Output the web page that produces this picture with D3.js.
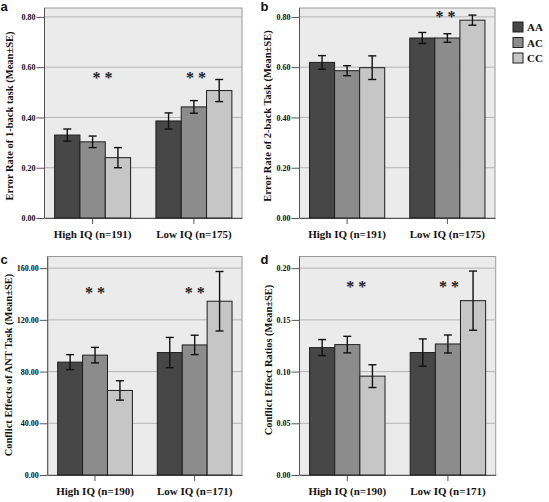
<!DOCTYPE html>
<html><head><meta charset="utf-8">
<script src="https://cdn.jsdelivr.net/npm/d3@7"></script>
<style>
html,body{margin:0;padding:0;background:#fff;}
svg{display:block;}
</style></head>
<body>
<svg id="chart" width="549" height="502"></svg>
<script>
// ---------- data ----------
const genotypes = ["AA", "AC", "CC"];
const groupsAB = ["High IQ (n=191)", "Low IQ (n=175)"];
const groupsCD = ["High IQ (n=190)", "Low IQ (n=171)"];

// panel a: Error rate 1-back
const meanA = [[0.330, 0.303, 0.240], [0.386, 0.442, 0.507]];
const seA   = [[0.024, 0.023, 0.040], [0.032, 0.025, 0.044]];
// panel b: Error rate 2-back
const meanB = [[0.619, 0.586, 0.598], [0.716, 0.716, 0.787]];
const seB   = [[0.027, 0.020, 0.047], [0.022, 0.017, 0.020]];
// panel c: Conflict effects ANT
const meanC = [[87.3, 92.7, 65.4], [94.7, 100.6, 134.4]];
const seC   = [[5.8, 6.0, 7.5], [11.7, 7.5, 23.0]];
// panel d: Conflict effect ratios
const meanD = [[0.1232, 0.1261, 0.0956], [0.1184, 0.1267, 0.1686]];
const seD   = [[0.0078, 0.0080, 0.0110], [0.0132, 0.0087, 0.0286]];

// significance marks (value level of the "* *"), null = none
const sigA = [0.571, 0.571];
const sigB = [null, 0.816];
const sigC = [144, 144];
const sigD = [0.186, 0.186];

const ticksAB = [0, 0.2, 0.4, 0.6, 0.8];
const ticksC  = [0, 40, 80, 120, 160];
const ticksD  = [0, 0.05, 0.10, 0.15, 0.20];

const titleA = "Error Rate of 1-back task (Mean±SE)";
const titleB = "Error Rate of 2-back Task (Mean±SE)";
const titleC = "Conflict Effects of ANT Task (Mean±SE)";
const titleD = "Conflict Effect Ratios (Mean±SE)";

// ---------- layout ----------
const colors = {AA: "#474747", AC: "#8c8c8c", CC: "#c6c6c6"};
const panels = [
  {label:"a", lx:0.5, ly:10.5, x0:44.5, x1:242, y0:8, y1:218, ymax:0.8354, ticks:ticksAB, groups:groupsAB,
   mean:meanA, se:seA, sig:sigA, sigOff:[10, 2], title:titleA, tx:9, ty:116},
  {label:"b", lx:260.5, ly:10.5, x0:299.5, x1:495, y0:8, y1:218, ymax:0.8354, ticks:ticksAB, groups:groupsAB,
   mean:meanB, se:seB, sig:sigB, sigOff:[0, -2], title:titleB, tx:267, ty:116},
  {label:"c", lx:0.5, ly:264, x0:47.7, x1:242, y0:256.5, y1:475, ymax:169, ticks:ticksC, groups:groupsCD,
   mean:meanC, se:seC, sig:sigC, sigOff:[0, 0], title:titleC, tx:8, ty:365},
  {label:"d", lx:260.5, ly:264, x0:299.5, x1:495.7, y0:256.5, y1:475, ymax:0.2113, ticks:ticksD, groups:groupsCD,
   mean:meanD, se:seD, sig:sigD, sigOff:[9, 1], title:titleD, tx:268, ty:360}
];

const svg = d3.select("#chart");
const serif = "'Liberation Serif','Times New Roman',serif";

panels.forEach(p => {
  const g = svg.append("g");
  const y = d3.scaleLinear().domain([0, p.ymax]).range([p.y1, p.y0]);
  const xg = d3.scaleBand().domain(p.groups).range([p.x0, p.x1]).paddingInner(0.25).paddingOuter(0.1);
  const xs = d3.scaleBand().domain(genotypes).range([0, xg.bandwidth()]).padding(0);

  // background
  g.append("rect").attr("x", p.x0).attr("y", p.y0).attr("width", p.x1 - p.x0).attr("height", p.y1 - p.y0)
    .attr("fill", "#ebebeb").attr("stroke", "#9a9a9a").attr("stroke-width", 1);

  // gridlines
  g.selectAll(".grid").data(p.ticks.filter(t => t > 0)).join("line")
    .attr("x1", p.x0).attr("x2", p.x1)
    .attr("y1", d => y(d)).attr("y2", d => y(d))
    .attr("stroke", "#b4b4b4").attr("stroke-width", 1);

  // y axis
  const yAxis = d3.axisLeft(y).tickValues(p.ticks).tickFormat(d3.format(".2f")).tickSize(8).tickSizeOuter(0);
  const ya = g.append("g").attr("transform", `translate(${p.x0},0)`).call(yAxis);
  ya.select(".domain").attr("stroke", "#555").attr("d", `M0,${p.y0}V${p.y1}`);
  ya.selectAll(".tick line").attr("stroke", "#555");
  ya.selectAll(".tick text").attr("font-family", serif).attr("font-weight", "bold")
    .attr("font-size", 8).attr("fill", "#111").attr("x", -9);

  // x axis
  const xAxis = d3.axisBottom(xg).tickSize(6).tickSizeOuter(0);
  const xa = g.append("g").attr("transform", `translate(0,${p.y1})`).call(xAxis);
  xa.select(".domain").attr("stroke", "#555");
  xa.selectAll(".tick line").attr("stroke", "#555");
  xa.selectAll(".tick text").attr("font-family", serif).attr("font-weight", "bold")
    .attr("font-size", 11).attr("fill", "#111").attr("y", 12);

  // bars
  const rows = [];
  p.groups.forEach((grp, gi) => genotypes.forEach((gt, k) => {
    rows.push({grp, gt, v: p.mean[gi][k], se: p.se[gi][k]});
  }));
  const bg = g.append("g");
  bg.selectAll("rect").data(rows).join("rect")
    .attr("x", d => xg(d.grp) + xs(d.gt))
    .attr("width", xs.bandwidth())
    .attr("y", d => y(d.v))
    .attr("height", d => y(0) - y(d.v))
    .attr("fill", d => colors[d.gt])
    .attr("stroke", "#1e1e1e").attr("stroke-width", 1);

  // error bars
  const eb = g.append("g").attr("stroke", "#111").attr("stroke-width", 1.4);
  rows.forEach(d => {
    const cx = xg(d.grp) + xs(d.gt) + xs.bandwidth() / 2;
    eb.append("line").attr("x1", cx).attr("x2", cx).attr("y1", y(d.v + d.se)).attr("y2", y(d.v - d.se));
    eb.append("line").attr("x1", cx - 4).attr("x2", cx + 4).attr("y1", y(d.v + d.se)).attr("y2", y(d.v + d.se));
    eb.append("line").attr("x1", cx - 4).attr("x2", cx + 4).attr("y1", y(d.v - d.se)).attr("y2", y(d.v - d.se));
  });

  // significance
  p.groups.forEach((grp, gi) => {
    if (p.sig[gi] == null) return;
    g.append("text")
      .attr("x", xg(grp) + xg.bandwidth() / 2 + p.sigOff[gi])
      .attr("y", y(p.sig[gi]) + 9)
      .attr("text-anchor", "middle")
      .attr("font-family", serif).attr("font-weight", "bold").attr("font-size", 16)
      .attr("fill", "#222").text("* *");
  });

  // y title
  g.append("text")
    .attr("transform", `translate(${p.tx},${p.ty}) rotate(-90)`)
    .attr("text-anchor", "middle").attr("dy", "0.35em")
    .attr("font-family", serif).attr("font-weight", "bold").attr("font-size", 10.5)
    .attr("fill", "#111").text(p.title);

  // panel label
  g.append("text").attr("x", p.lx).attr("y", p.ly)
    .attr("font-family", "'Liberation Sans',Arial,sans-serif").attr("font-weight", "bold")
    .attr("font-size", 13).attr("fill", "#111").text(p.label);
});

// legend
const leg = svg.append("g");
genotypes.forEach((gt, i) => {
  const yy = 22 + i * 15.5;
  leg.append("rect").attr("x", 513).attr("y", yy).attr("width", 10).attr("height", 10)
    .attr("fill", colors[gt]).attr("stroke", "#1e1e1e").attr("stroke-width", 1);
  leg.append("text").attr("x", 527).attr("y", yy + 9)
    .attr("font-family", serif).attr("font-weight", "bold").attr("font-size", 11)
    .attr("fill", "#111").text(gt);
});
</script>
</body></html>
